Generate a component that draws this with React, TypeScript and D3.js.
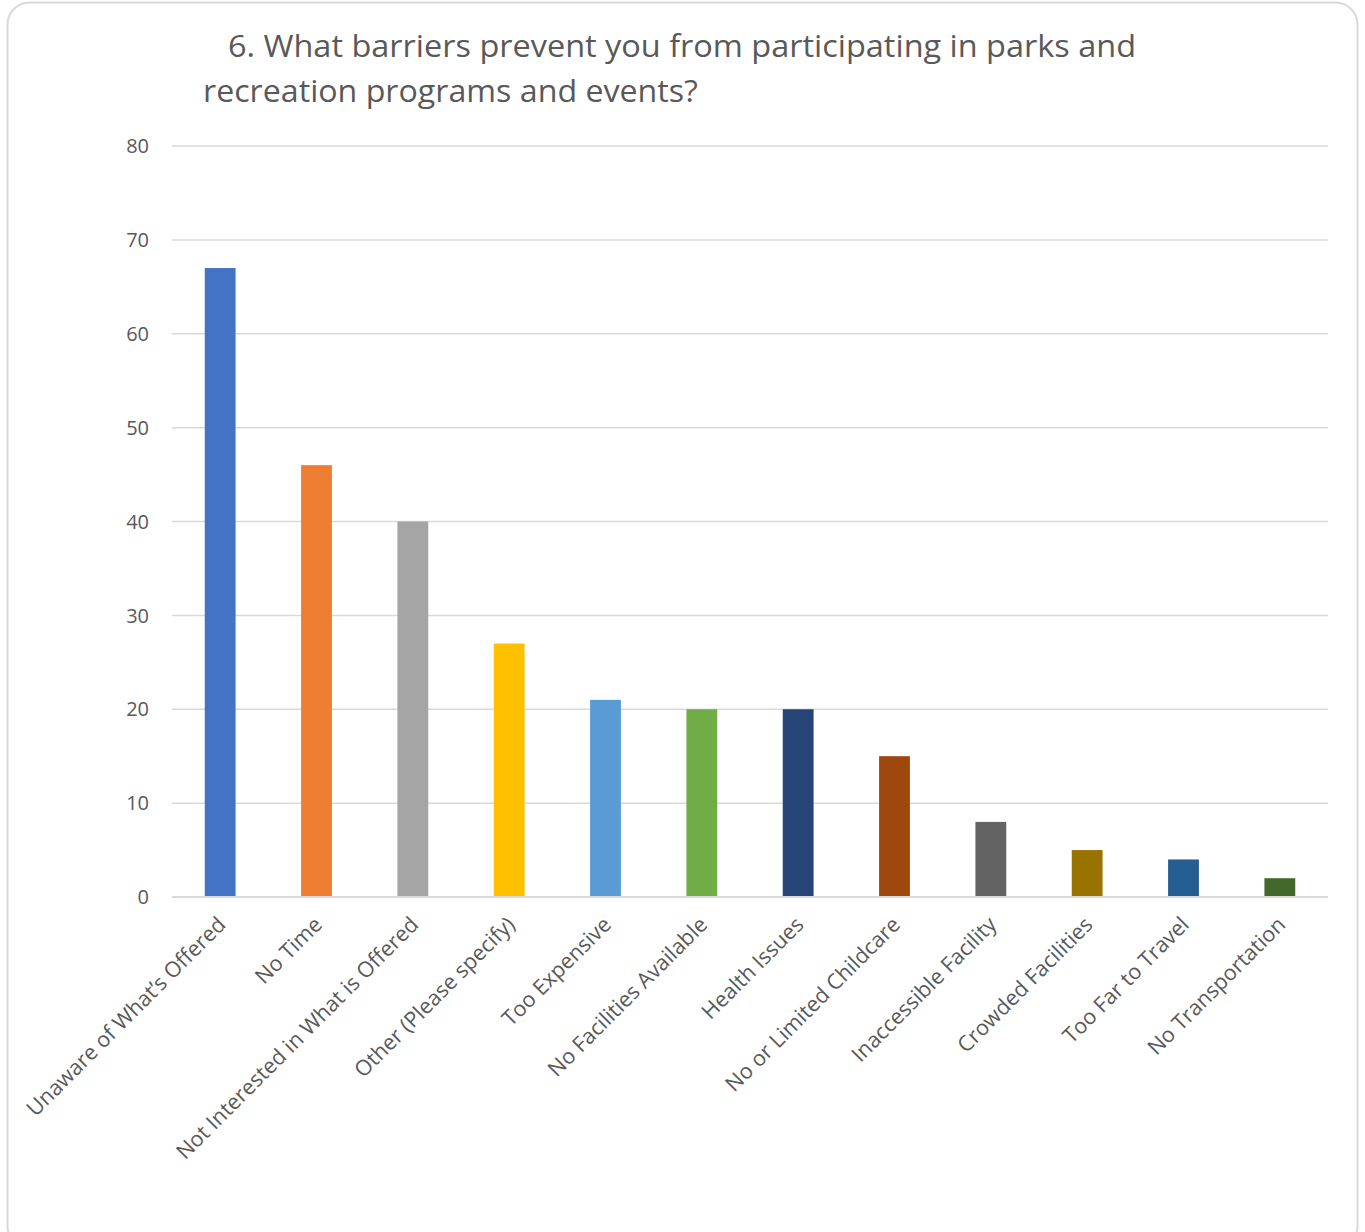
import React from "react";
import * as d3 from "d3";

const categories = [
  "Unaware of What’s Offered",
  "No Time",
  "Not Interested in What is Offered",
  "Other (Please specify)",
  "Too Expensive",
  "No Facilities Available",
  "Health Issues",
  "No or Limited Childcare",
  "Inaccessible Facility",
  "Crowded Facilities",
  "Too Far to Travel",
  "No Transportation",
];
const values = [67, 46, 40, 27, 21, 20, 20, 15, 8, 5, 4, 2];
const colors = [
  "#4472C4", "#ED7D31", "#A5A5A5", "#FFC000", "#5B9BD5", "#70AD47",
  "#264478", "#9E480E", "#636363", "#997300", "#255E91", "#43682B",
];
const yTicks = [0, 10, 20, 30, 40, 50, 60, 70, 80];
const titleLines = [
  "6. What barriers prevent you from participating in parks and",
  "recreation programs and events?",
];

export default function App() {
  const W = 1365, H = 1232;
  const left = 172, right = 1328, top = 146, bottom = 897;
  const x = d3.scaleBand<string>().domain(categories).range([left, right]).paddingInner(0.68).paddingOuter(0.34);
  const y = d3.scaleLinear().domain([0, 80]).range([bottom, top]);
  const font = "'Open Sans', sans-serif";
  const txt = "#595959";
  return (
    <svg width={W} height={H} style={{ position: "absolute", left: 0, top: 0 }} fontFamily={font}>
      <rect x={0} y={0} width={W} height={H} fill="#fff" />
      <rect x={7.5} y={2.5} width={1350} height={1245} rx={22} fill="#fff" stroke="#d9d9d9" strokeWidth={2} />
      <text x={228} y={57} fontSize={31} fill={txt} textLength={908} lengthAdjust="spacingAndGlyphs">{titleLines[0]}</text>
      <text x={203} y={102} fontSize={31} fill={txt} textLength={495} lengthAdjust="spacingAndGlyphs">{titleLines[1]}</text>
      {yTicks.map((t) => (
        <g key={t}>
          <line x1={left} x2={right} y1={y(t)} y2={y(t)} stroke="#d9d9d9" strokeWidth={1.5} />
          <text x={149} y={y(t)} dy="0.36em" textAnchor="end" fontSize={20} fill={txt}>{t}</text>
        </g>
      ))}
      {categories.map((c, i) => (
        <rect key={c} x={x(c)} y={y(values[i])} width={x.bandwidth()} height={y(0) - y(values[i])} fill={colors[i]} />
      ))}
      <line x1={left} x2={right} y1={y(0)} y2={y(0)} stroke="#d9d9d9" strokeWidth={2} />
      {categories.map((c) => {
        const cx = (x(c) as number) + x.bandwidth() / 2;
        return (
          <text key={c} transform={`translate(${cx - 4},${915}) rotate(-45)`} textAnchor="end" dy="0.72em" fontSize={21.5} fill={txt}>{c}</text>
        );
      })}
    </svg>
  );
}
